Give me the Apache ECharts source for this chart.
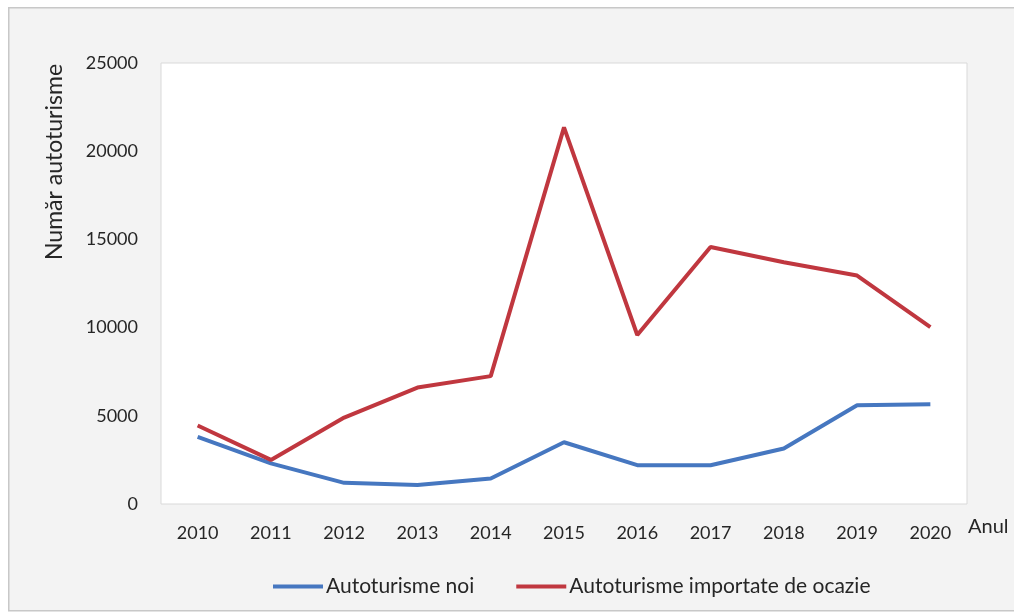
<!DOCTYPE html>
<html>
<head>
<meta charset="utf-8">
<script src="https://cdn.jsdelivr.net/npm/echarts@6/dist/echarts.min.js"></script>
<style>
html,body{margin:0;padding:0;background:#ffffff;}
#main{width:1014px;height:614px;}
</style>
</head>
<body>
<div id="main"></div>
<script>
const years = ['2010','2011','2012','2013','2014','2015','2016','2017','2018','2019','2020'];
const seriesNames = ['Autoturisme noi','Autoturisme importate de ocazie'];
const autoNoi = [3800, 2300, 1200, 1080, 1450, 3500, 2200, 2200, 3150, 5600, 5650];
const autoOcazie = [4450, 2500, 4900, 6600, 7250, 21350, 9580, 14570, 13700, 12950, 10030];
const yTicks = {min: 0, max: 25000, interval: 5000};
const yAxisTitle = 'Număr autoturisme';
const xAxisTitle = 'Anul';

const FONT = 'Lato';
const chart = echarts.init(document.getElementById('main'));
chart.setOption({
  backgroundColor: '#ffffff',
  animation: false,
  graphic: [
    {type:'rect', left: 8, top: 7, z: -10, silent: true,
     shape:{x:0,y:0,width:1020,height:603},
     style:{fill:'#f3f3f3', stroke:'#c8c8c8', lineWidth:1.5}},
    {type:'text', x: 55, y: 162, rotation: Math.PI/2, z: 10,
     style:{text: yAxisTitle, fill:'#262626', font:'23px ' + FONT, align:'center', verticalAlign:'middle'}},
    {type:'text', x: 968, y: 527, z: 10,
     style:{text: xAxisTitle, fill:'#262626', font:'20px ' + FONT, align:'left', verticalAlign:'middle'}}
  ],
  grid: {left: 161, top: 63, right: 47, bottom: 110, show: true, backgroundColor:'#ffffff', borderColor:'#d9d9d9', borderWidth:1},
  legend: {
    data: seriesNames, bottom: 12, left: 268,
    icon: 'rect', itemWidth: 50, itemHeight: 4, itemGap: 42,
    textStyle: {fontFamily: FONT, fontSize: 21, color:'#262626', padding:[0,0,0,-2]}
  },
  xAxis: {
    type: 'category', data: years, boundaryGap: true,
    axisLine: {show:false}, axisTick: {show:false},
    axisLabel: {fontFamily: FONT, fontSize: 18, color:'#262626', margin: 20}
  },
  yAxis: {
    type: 'value', min: yTicks.min, max: yTicks.max, interval: yTicks.interval,
    axisLine:{show:false}, axisTick:{show:false}, splitLine:{show:false},
    axisLabel:{fontFamily: FONT, fontSize: 18, color:'#262626', margin: 23, formatter: v => String(v)}
  },
  series: [
    {name: seriesNames[0], type:'line', data: autoNoi, symbol:'none',
     lineStyle:{color:'#4677c0', width:4}, itemStyle:{color:'#4677c0'}},
    {name: seriesNames[1], type:'line', data: autoOcazie, symbol:'none',
     lineStyle:{color:'#c0373f', width:4}, itemStyle:{color:'#c0373f'}}
  ]
});
</script>
</body>
</html>
